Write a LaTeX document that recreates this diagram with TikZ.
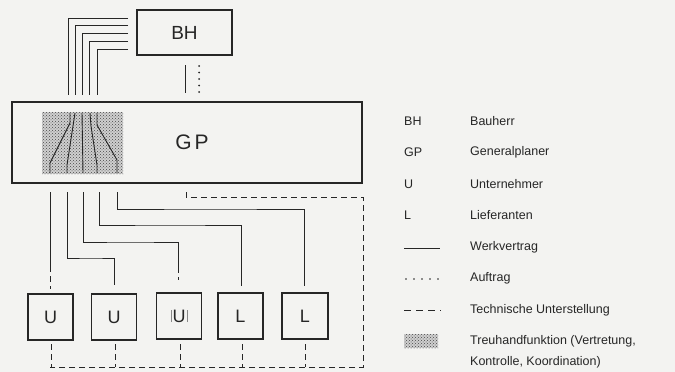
\documentclass[tikz,border=0pt]{standalone}
\usepackage{fontspec}
\setmainfont{Liberation Sans}
\usetikzlibrary{patterns}
\definecolor{bg}{RGB}{243,243,241}
\definecolor{ink}{RGB}{38,38,38}
\begin{document}
\begin{tikzpicture}[x=1pt,y=-1pt,
  box/.style={draw=ink, line width=1.6pt, inner sep=0pt},
  wire/.style={draw=ink, line width=0.9pt},
  tech/.style={draw=ink, line width=0.9pt, dash pattern=on 6pt off 4pt},
  dotline/.style={draw=ink, line width=2pt, line cap=round, dash pattern=on 0pt off 6.5pt},
  stipbase/.style={fill=ink!22},
  stip/.style={pattern=crosshatch dots, pattern color=ink!85},
  boxlbl/.style={text=ink, font=\fontsize{18}{18}\selectfont},
  leglbl/.style={anchor=west, text=ink, font=\fontsize{12.5}{14}\selectfont, inner sep=0pt}
]
\useasboundingbox[fill=bg] (0,0) rectangle (675,372);

% main boxes
\node[box, minimum width=95pt, minimum height=45pt] (bh) at (184.5,32.5) {};
\node[boxlbl, font=\fontsize{19}{19}\selectfont] (bhl) at (184.5,33) {BH};
\node[box, minimum width=350pt, minimum height=81pt] (gp) at (187,142.5) {};
\path[stipbase] (42,112) rectangle (123,174);
\path[stip] (42,112) rectangle (123,174);
\node[boxlbl, font=\fontsize{21}{21}\selectfont] (gpl) at (192,142) {G\hspace{3pt}P};

\node[box, minimum width=45pt, minimum height=46pt] (u1) at (50.5,317) {};
\node[box, minimum width=45pt, minimum height=46pt] (u2) at (114,317) {};
\node[box, minimum width=45pt, minimum height=46pt] (u3) at (179,316) {};
\node[box, minimum width=45pt, minimum height=46pt] (l1) at (240.5,316) {};
\node[box, minimum width=46pt, minimum height=46pt] (l2) at (305,316) {};
\node[boxlbl] (u1l) at (u1) {U};
\node[boxlbl] (u2l) at (u2) {U};
\node[boxlbl] (u3l) at (u3) {{\color{ink!55}\rule[0pt]{0.5pt}{12pt}}\hspace{1pt}U\hspace{1pt}{\color{ink!55}\rule[0pt]{0.5pt}{12pt}}};
\node[boxlbl] (l1l) at (l1) {L};
\node[boxlbl] (l2l) at (l2) {L};

% BH - GP link
\coordinate (s1) at (185,65); \coordinate (s2) at (185,93);
\coordinate (d1) at (199,66); \coordinate (d2) at (199,93);
\draw[wire] (s1) -- (s2);
\draw[dotline] (d1) -- (d2);

% wires from BH to GP (top)
\foreach \i/\yy/\xx in {1/18/68, 2/25.5/75, 3/33/82, 4/41/89.5, 5/49/97}{
  \coordinate (ta\i) at (128,\yy);
  \coordinate (tb\i) at (\xx,95);
  \draw[wire] (ta\i) -| (tb\i);
}

% fan inside GP
\coordinate (f1a) at (70,113); \coordinate (f1b) at (70,123); \coordinate (f1c) at (50,163); \coordinate (f1d) at (50,173);
\coordinate (f2a) at (75,113); \coordinate (f2b) at (73,126); \coordinate (f2c) at (67,165); \coordinate (f2d) at (67,173);
\coordinate (f3a) at (82,113); \coordinate (f3d) at (83,173);
\coordinate (f4a) at (90,113); \coordinate (f4b) at (91,126); \coordinate (f4c) at (97,165); \coordinate (f4d) at (97,173);
\coordinate (f5a) at (97,113); \coordinate (f5b) at (97,125); \coordinate (f5c) at (117,160); \coordinate (f5d) at (117,173);
\draw[wire] (f1a) -- (f1b) -- (f1c) -- (f1d);
\draw[wire] (f2a) -- (f2b) -- (f2c) -- (f2d);
\draw[wire] (f3a) -- (f3d);
\draw[wire] (f4a) -- (f4b) -- (f4c) -- (f4d);
\draw[wire] (f5a) -- (f5b) -- (f5c) -- (f5d);

% wires from GP down to U / L
\coordinate (w1a) at (50,192); \coordinate (w1b) at (50,266); \coordinate (w1c) at (50,289);
\draw[wire] (w1a) -- (w1b);
\draw[tech] (w1b) -- (w1c);
\coordinate (w2a) at (67,192); \coordinate (w2b) at (114,285);
\draw[wire] (w2a) |- (91,258) -| (w2b);
\coordinate (w3a) at (83,192); \coordinate (w3b) at (178,273);
\draw[wire] (w3a) |- (130,242) -| (w3b);
\coordinate (w3c) at (178,277); \coordinate (w3d) at (178,279.5);
\draw[wire] (w3c) -- (w3d);
\coordinate (w4a) at (99,192); \coordinate (w4b) at (241,286);
\draw[wire] (w4a) |- (170,225) -| (w4b);
\coordinate (w5a) at (117,192); \coordinate (w5b) at (304,286);
\draw[wire] (w5a) |- (210,209) -| (w5b);

% technical subordination network
\coordinate (n1) at (186,192); \coordinate (n2) at (186,197);
\coordinate (n3) at (363,197); \coordinate (n4) at (363,367); \coordinate (n5) at (50,367);
\draw[tech] (n1) -- (n2) -- (n3) -- (n4) -- (n5);
\foreach \b/\xx in {u1/51, u2/115, u3/180, l1/242, l2/305}{
  \coordinate (\b t) at (\xx,344);
  \coordinate (\b s) at (\xx,367);
  \draw[tech] (\b t) -- (\b s);
}

% legend
\node[leglbl] (k1) at (404,121) {BH};   \node[leglbl] (v1) at (470,121) {Bauherr};
\node[leglbl] (k2) at (404,152) {GP};   \node[leglbl] (v2) at (470,152) {Generalplaner};
\node[leglbl] (k3) at (404,184) {U};    \node[leglbl] (v3) at (470,184) {Unternehmer};
\node[leglbl] (k4) at (404,215) {L};    \node[leglbl] (v4) at (470,215) {Lieferanten};
\coordinate (g1a) at (404,248); \coordinate (g1b) at (440,248);
\draw[wire] (g1a) -- (g1b);
\node[leglbl] (v5) at (470,247) {Werkvertrag};
\coordinate (g2a) at (406,279); \coordinate (g2b) at (438,279);
\draw[draw=ink, line width=1.7pt, line cap=round, dash pattern=on 0pt off 8pt] (g2a) -- (g2b);
\node[leglbl] (v6) at (470,278) {Auftrag};
\coordinate (g3a) at (404,310); \coordinate (g3b) at (441,310);
\draw[draw=ink, line width=0.9pt, dash pattern=on 7pt off 5pt] (g3a) -- (g3b);
\node[leglbl] (v7) at (470,310) {Technische Unterstellung};
\path[stipbase] (404,334) rectangle (438,348);
\path[stip] (404,334) rectangle (438,348);
\node[leglbl] (v8) at (470,341) {Treuhandfunktion (Vertretung,};
\node[leglbl] (v9) at (470,362) {Kontrolle, Koordination)};
\end{tikzpicture}
\end{document}
